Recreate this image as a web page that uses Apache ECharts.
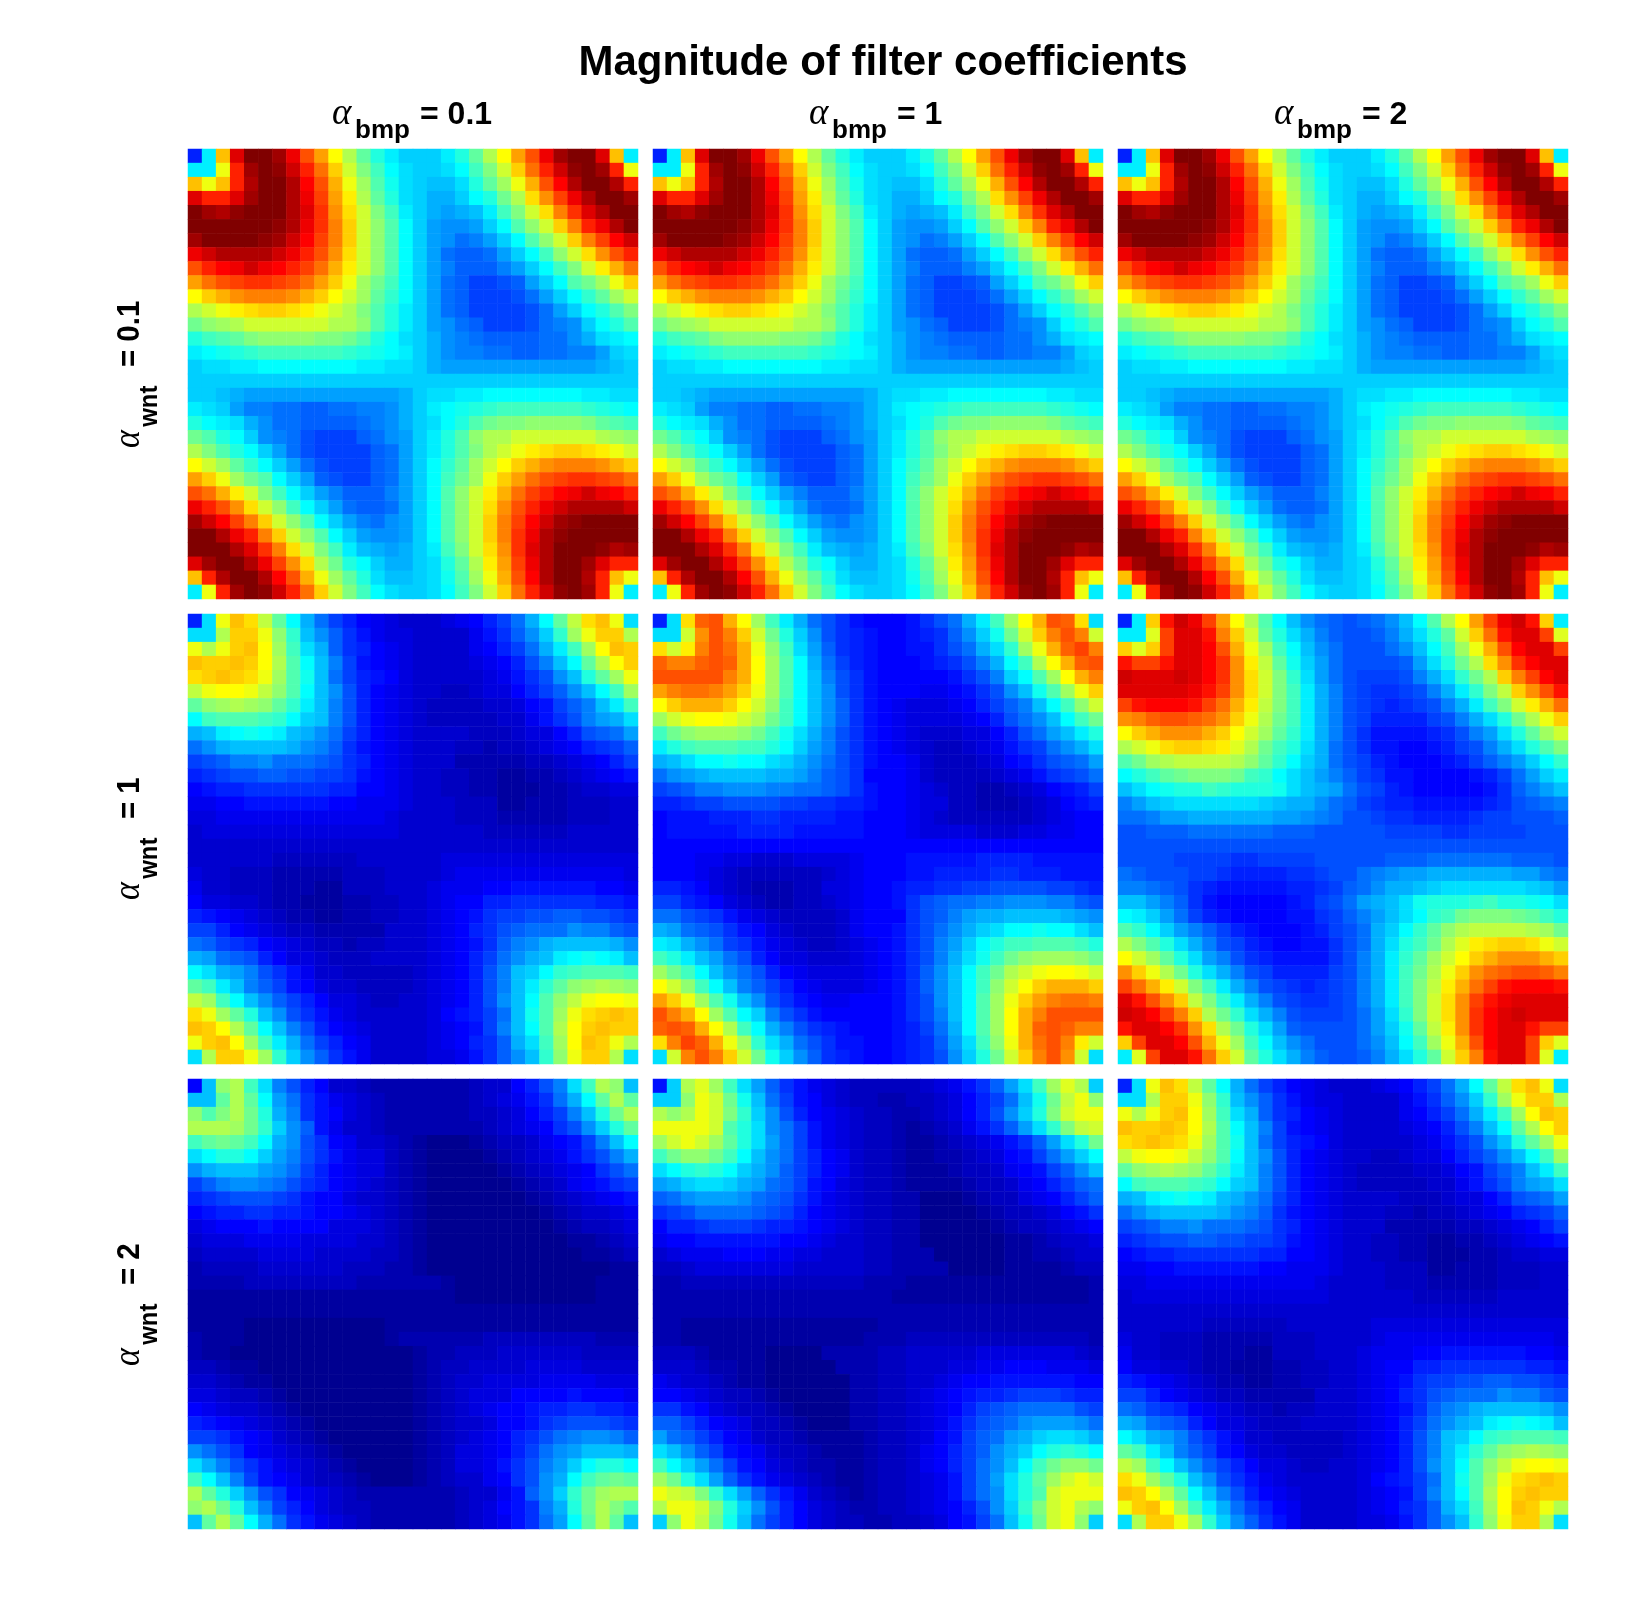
<!DOCTYPE html>
<html>
<head>
<meta charset="utf-8">
<title>Magnitude of filter coefficients</title>
<style>html,body{margin:0;padding:0;background:#fff}#chart{width:1642px;height:1604px}</style>
<script src="https://cdn.jsdelivr.net/npm/echarts@6/dist/echarts.min.js"></script>
</head>
<body>
<div id="chart"></div>
<script>
// Each character is one colormap level, 0 to 63, in the order of this alphabet.
// Rows are written in groups of ten cells.
const levelAlphabet = "0123456789abcdefghijklmnopqrstuvwxyzABCDEFGHIJKLMNOPQRSTUVWXYZ#@";

const bmpLabels = ["0.1", "1", "2"];
const wntLabels = ["0.1", "1", "2"];

// wnt = 0.1, all bmp values
const magWnt01 = [
"9mHV@@ZUOJ Dytpmkkkmp tyDJOUZ@@V Hm",
"mmCRZ@#WRM GAvrnlkkln rvAGMRW#@Z RC",
"HCHRY@@YTO ICxsolkjjl ptxCIOTY@@ YR",
"VRRVZ@@YUP JEytplkiik npuyFKPUY@ @Z",
"@ZY#@@@YVQ KFAvrmkihi jmrvAFLQVY @@",
"@@@@@@#YUQ LGAwsnkhgg hknswAGLRU Y@",
"Z@@@@#ZWTP LGAwsnkhge fhknswAGLP TW",
"UWYYYYWURO KFAwsnkhed dehknrwAFK OR",
"ORTUWUTRPM IEAwsnkhfd ddfhknrvAE IM",
"JMOPQQPOMJ GCxurnkhed bbcdhknsux CG",
"DGIKLLLKIG DAxtqnkhed bbbcehknqt xA",
"yACEFGGFEC Ayvspmkhed bbbbcehknp sv",
"uwxyAAAAAA yywspmkhge dbbbcefgkn ps",
"prstvwwwwv vuspnlkigf eddddeegil mn",
"mnopqrrrrr rqponmkigf feeddeeffh kl",
"kllmmnnnnn nnmmllkihh hhhhhhhhhi jk",
"kkkkkkkkkk kkkkkkkkkk kkkkkkkkkk kk",
"kkjihhhhhh hhhhhikllm mnnnnnnnmm ll",
"mlkhffeedd eeffgikmno pqrrrrrrqp on",
"pnmligeedd ddefgiklnp suvvwwwwvt sr",
"uspnkgfecb bbdeghkmps wyyAAAAAAy xw",
"yvspnkhecb bbbdehkmps vyACEFGGFE CA",
"DAxtqnkhec bbbdehknqt xADGIKLLLK IG",
"JGCxusnkhd cbbdehknru xCGJMOPQQP OM",
"OMIEAvrnkh fdddfhknsw AEIMPRTUWU TR",
"UROKFAwrnk heddehknsw AFKORUWYYY YW",
"ZWTPLGAwsn khfeghknsw AGLPTWZ#@@ @@",
"@@YURLGAws nkhgghknsw AGLQUY#@@@ @@",
"@@@YVQLFAv rmjihikmrv AFKQVY@@@# YZ",
"VZ@@YUPKFy upnkiiklpt yEJPUY@@ZV RR",
"HRY@@YTOIC xtpljjklos xCIOTY@@YR HC",
"mCRZ@#WRMG Avrnlkklnr vAGMRW#@ZR Cm"
];

// wnt = 1, bmp = 0.1; wnt = 2, bmp = 2
const magWnt1Bmp01 = [
"9lCHFztnie b976544456 79beintzFH Cl",
"llyGGCwqjg da86554444 68adgkqxCG Gy",
"CyCGHDxrli da97654444 679beimrxD HG",
"HGGHGDysnj fb87654444 5679cfjnty DG",
"FGHGFCxsoj eb98754444 4568acgjpt xC",
"zCDDCzwsnj gc97654433 45579bdgjn rx",
"twxyxwtqmj fc97654333 344578bdfj mr",
"nrsssrqnkj fc97654333 334468acfh il",
"ijmnonmjig eb97654444 33345579cd eh",
"egijjjjigf da87654443 323345679a bd",
"bcdffgeeed ca97654442 2222334567 9b",
"9abccddccb ba87654433 2211223456 78",
"7899aaaaaa 9977654433 2211122344 55",
"6677888888 7766654443 3311222333 44",
"5566666666 6666544443 3322222333 44",
"4555555555 5555544444 4333333444 44",
"4444444444 4444444444 4444444444 44",
"4444443333 3344444455 5555555555 55",
"5443332222 2333444456 6666666666 65",
"6443332221 1333444566 6778888887 76",
"7554432211 1223344567 799aaaaaa9 98",
"9876543221 1223344567 8abbccddcc ba",
"bb97654332 2222444567 9acdeeegff dc",
"edba976543 3233444567 8adfgijjjj ig",
"ihedc97554 3334444567 9begijmnon mj",
"nlihfca864 4333334567 9cfjknqrss sr",
"trmjfdb875 4433334567 9cfjmqtwxy xw",
"zxrnjgdb97 5543344567 9cgjnswzCD DC",
"FCxtpjgca8 6544444578 9bejosxCFG HG",
"HGDytnjfc9 7654444567 8bfjnsyDGH GG",
"CGHDxrmieb 9764444567 9adilrxDHG Cy",
"lyGGCxqkgd a864444556 8adgjqwCGG yl"
];

// wnt = 1, bmp = 1
const magWnt1Bmp1 = [
"9lFNOIDxrm ieca87778a ceimrxDION Fl",
"llAKOLGAup kgca987789 adgkouAGLO LA",
"FAELOMICwr lhda987788 aceilqxCIN PL",
"NLLNONIDxs nieb987778 9acfinryDI NO",
"OOOOOLIDxs njfca87777 78acfknsxD IL",
"JLMMLJGCxs njgca87776 678acgjosx CG",
"DGIIIGDAwr njgda87655 5679bdfjnr wA",
"xACDDCAyur njgda87655 55679cegjn ru",
"ruwxxxwuro lifca87654 445579cehj mp",
"mprsssrrpn khfca87654 334568abeg il",
"ijlnnonnlk igeca87764 3334578acd eh",
"eghijjjjii hfdca77764 33334568ab ce",
"bcdffgggff eedca87765 4332234578 9b",
"99abbccccb baa9987765 5332223457 89",
"7888999aa9 9998877765 4333333456 77",
"7888889999 8888877765 5554445566 77",
"7777777777 7777777777 7777777777 77",
"7776655444 5555677788 8889999888 88",
"7776543333 3345677788 9999aa9998 88",
"9987543222 3355677899 aabbccccbb a9",
"bb98754322 33456778ac deeffgggff dc",
"eecba86543 33346777ac dfhiijjjji hg",
"ihedca8754 33346778ac egiklnnonn lj",
"mligeba865 43345678ac fhknprrsss rp",
"rpmjhec975 54445678ac filoruwxxx wu",
"xurnjgec97 65555678ad gjnruyACDD CA",
"DAwrnjfdb9 76555678ad gjnrwADGII IG",
"JGCxsojgca 87667778ac gjnsxCGJLM ML",
"OLIDxsnkfc a8777778ac fjnsxDILOO OO",
"NONIDyrnif ca9877789b einsxDINON LL",
"FLPNICxqli eca887789a dhlrwCIMOL EA",
"lALOLGAuok gda987789a cgkpuAGLOK Al"
];

// wnt = 1, bmp = 2
const magWnt1Bmp2 = [
"9mGSWUPJDy snjgedcdeg jnsyDJPUWS Gm",
"mmBPVVSLGA tplifdccdf ilptAGMSVV PB",
"GBGPVVTOIC xrnjgeccce gjnrxCIOTV VP",
"SPPSVVTQKE ztokhecccc dhlpuyFKQT VV",
"WVVVWVTQKF Avqlhecbbb cfilquyGLP TV",
"VVVVVUSPKF Avrmifcbaa bcfimqvzGK OS",
"PSTTTSPMIE zvrmifcba9 abcfimrvAE IM",
"KLNOONMKGC yurmifcb99 99bcfilpuy CG",
"DGIKKKIGDA xtqmifca88 889acfhlpt xA",
"yACFGGFEBy urplieca88 7789bcfilp sv",
"suxyzzzzyw tqnkiecb98 77789bdfhk nq",
"nprtuvvvur qnljhfdba8 8777789beh km",
"jlnopprqpp poljihecb9 8777778adf hj",
"fhjkllllll kjiigedba9 9888889acd ef",
"eefhhiiiii ihhgfeccba a9999abbcc cd",
"ccdddeeeee edddcccccb bbbaabbbbc cc",
"cccccccccc cccccccccc cccccccccc cc",
"ccccbbbbaa bbbbcccccd ddeeeeeedd dc",
"edcccbba99 99aabccefg hhiiiiiihh fe",
"ffedca9888 8899abdegi ijkllllllk jh",
"jjhfda8777 7789bcehij lopppqrppo nl",
"nmkheb9877 7788abdfhj lnqruvvvut rp",
"sqnkhfdb98 77789bceik nqtwyzzzzy xu",
"yvsplifcb9 87788aceil pruyBEFGGF CA",
"DAxtplhfca 98888acfim qtxADGIKKK IG",
"KGCyuplifc b9999bcfim ruyCGKMNOO NL",
"PMIEAvrmif cba9abcfim rvzEIMPSTT TS",
"VSOKGzvqmi fcbaabcfim rvAFKPSUVV VV",
"WVTPLGyuql ifcbbbcehl qvAFKQTVWV VV",
"SVVTQKFyup lhdccccehk otzEKQTVVS PP",
"GPVVTOICxr njgecccegj nrxCIOTVVP GB",
"mBPVVSMGAt plifdccdfi lptAGLSVVP Bm"
];

// wnt = 2, bmp = 0.1
const magWnt2Bmp01 = [
"7jwyrlfc97 4432222222 34479cflry wj",
"jjtytnhea8 6543222222 34568aeint yt",
"wsvyupifa8 7543222222 334579bfjp uy",
"yyyxuqkgd8 6443222222 234567acgk pt",
"rtutrnigca 7644321000 12334678bf jn",
"lnppnkhfca 8655321000 01234568ac fi",
"gijjjhgeb9 7655321000 001234567a ce",
"bdfggfeca9 7654321000 0001234678 ab",
"9abcccba87 7544321000 0000123456 78",
"7899aa9987 7654321000 0000012344 56",
"5677787777 5554321000 0000001233 45",
"4555666655 5544321000 0000000112 34",
"3444455554 4443321000 0000000011 23",
"2333344444 4333221000 0000000000 11",
"2222333333 3322222210 0000000001 11",
"1111111111 1111111110 0000000001 11",
"1111111111 1111111111 1111111111 11",
"1111000000 0000111111 1111111111 11",
"2111000000 0000122222 2333333332 22",
"2110000000 0000001223 3344444433 33",
"3321100000 0000001233 4444555544 44",
"4432110000 0000001234 4555566665 55",
"5543321000 0000001234 5557777877 76",
"7654432100 0000001234 5677899aa9 98",
"9876543210 0000001234 45778abccc ba",
"bba8764321 0000001234 5679acefgg fd",
"geca765432 1000001235 5679beghjj ji",
"lifca86543 2100001235 568acfhknp pn",
"rnjfb87643 3210001234 467acginrt ut",
"ytpkgca765 4322222223 4468dgkqux yy",
"wyupjfb975 4332222223 4578afipuy vs",
"jtytniea86 5432222223 4568aehnty tj"
];

// wnt = 2, bmp = 1
const magWnt2Bmp1 = [
"8kyBxrlhda 8654333334 568adhlrxB yk",
"kkwCAuojeb 8754332233 4579bejouz Cw",
"ywyCAvqkgc 9765433223 4579cgkpvA CC",
"CCCCAsplge b865433212 3468adhlqv zA",
"xACAxtplhe b865433211 234568adhl pu",
"ruwwurnjge b976433211 2234578beh kn",
"lnpqpnkigd b976433211 12334678bd gj",
"hikllkihed b875433211 112334679b de",
"deghhhgedc a865433220 0012335679 bd",
"abceeeedcb 9765433220 0001233457 8a",
"799abbba99 8765433220 0000123345 67",
"6778888887 7654433220 0000011234 45",
"4566677766 5544433222 0000011223 44",
"3345555555 4444433222 2000011112 33",
"2233333333 3333322211 1111111111 12",
"2222222222 2222222111 1111111111 12",
"2222222222 2222222222 2222222222 22",
"2211111111 1111112222 2222222222 22",
"2211111111 1111122233 3333333333 32",
"3332111100 0022223344 4445555555 43",
"4443221100 0002223344 4556677766 65",
"6544321100 0000223344 5677888888 77",
"7765433210 0000223345 67899abbba 99",
"aa87543321 0000223345 679bcdeeee cb",
"ddb9765332 1000223345 68acdeghhh ge",
"hedb976433 2111123345 78bdehikll ki",
"ljgdb87643 3211123346 79bdgiknpq pn",
"rnkheb8754 3221123346 79begjnruw wu",
"xuplhda865 4321123345 68behlptxA CA",
"CAzvqlhda8 6432123345 68beglpsAC CC",
"yCCAvpkgc9 7543223345 679cgkqvAC yw",
"kwCzuojeb9 7543322334 578bejouAC wk"
];

// Panels by row (wnt) and column (bmp)
const panelGrid = [
  [magWnt01, magWnt01, magWnt01],
  [magWnt1Bmp01, magWnt1Bmp1, magWnt1Bmp2],
  [magWnt2Bmp01, magWnt2Bmp1, magWnt1Bmp01]
];

// MATLAB jet stops, evenly spaced from level -1 to level 63
const jetStops = ["#000080", "#0000ff", "#0080ff", "#00ffff", "#80ff80", "#ffff00", "#ff8000", "#ff0000", "#800000"];

const gridLeft = [188, 653, 1118];
const gridTop = [149, 614, 1079];
const gridSize = 450;
const cellIndex = Array.from({ length: 32 }, (_, i) => i);

const grids = [], xAxes = [], yAxes = [], series = [];
panelGrid.forEach((panelRow, r) => {
  panelRow.forEach((rows, c) => {
    const n = grids.length;
    grids.push({ left: gridLeft[c], top: gridTop[r], width: gridSize, height: gridSize, containLabel: false });
    xAxes.push({ type: "category", gridIndex: n, data: cellIndex, show: false });
    yAxes.push({ type: "category", gridIndex: n, data: cellIndex, inverse: true, show: false });
    const cells = [];
    rows.forEach((text, y) => {
      const row = text.replace(/ /g, "");
      for (let x = 0; x < 32; x++) cells.push([x, y, levelAlphabet.indexOf(row[x])]);
    });
    series.push({
      type: "heatmap",
      xAxisIndex: n,
      yAxisIndex: n,
      data: cells,
      progressive: 0,
      animation: false,
      itemStyle: { borderWidth: 0 },
      emphasis: { disabled: true }
    });
  });
});

const sans = "'Liberation Sans', Helvetica, Arial, sans-serif";
const mathFont = "'Liberation Serif', 'DejaVu Serif', serif";

// One "alpha_sub = value" label: three text pieces placed along a shared baseline
function alphaLabel(sub, value, x, y, rotation, scaleX, subDrop) {
  return {
    type: "group",
    x: x,
    y: y,
    rotation: rotation,
    scaleX: scaleX,
    children: [
      { type: "text", x: 0, y: -9, style: { text: "\u03b1", font: "italic 37px " + mathFont, fill: "#000", textAlign: "left", textVerticalAlign: "middle" } },
      { type: "text", x: 23, y: subDrop - 7, style: { text: sub, font: "bold 26px " + sans, fill: "#000", textAlign: "left", textVerticalAlign: "middle" } },
      { type: "text", x: 88, y: -8, style: { text: "= " + value, font: "bold 32px " + sans, fill: "#000", textAlign: "left", textVerticalAlign: "middle" } }
    ]
  };
}

const colLabelLeft = [332, 809, 1274];
const rowLabelStart = [448, 900, 1366];
const labels = [];
bmpLabels.forEach((v, c) => labels.push(alphaLabel("bmp", v, colLabelLeft[c], 123, 0, 1, 15)));
wntLabels.forEach((v, r) => labels.push(alphaLabel("wnt", v, 138, rowLabelStart[r], Math.PI / 2, 0.92, 19)));

const chart = echarts.init(document.getElementById("chart"), null, { renderer: "canvas" });
chart.setOption({
  animation: false,
  backgroundColor: "#fff",
  title: {
    text: "Magnitude of filter coefficients",
    left: 878,
    top: 37,
    textAlign: "center",
    textStyle: { fontFamily: sans, fontWeight: "bold", fontSize: 42, color: "#000" }
  },
  tooltip: { show: false },
  grid: grids,
  xAxis: xAxes,
  yAxis: yAxes,
  visualMap: {
    type: "continuous",
    show: false,
    min: -1,
    max: 63,
    seriesIndex: series.map((_, i) => i),
    inRange: { color: jetStops }
  },
  series: series,
  graphic: { elements: labels }
});
</script>
</body>
</html>
